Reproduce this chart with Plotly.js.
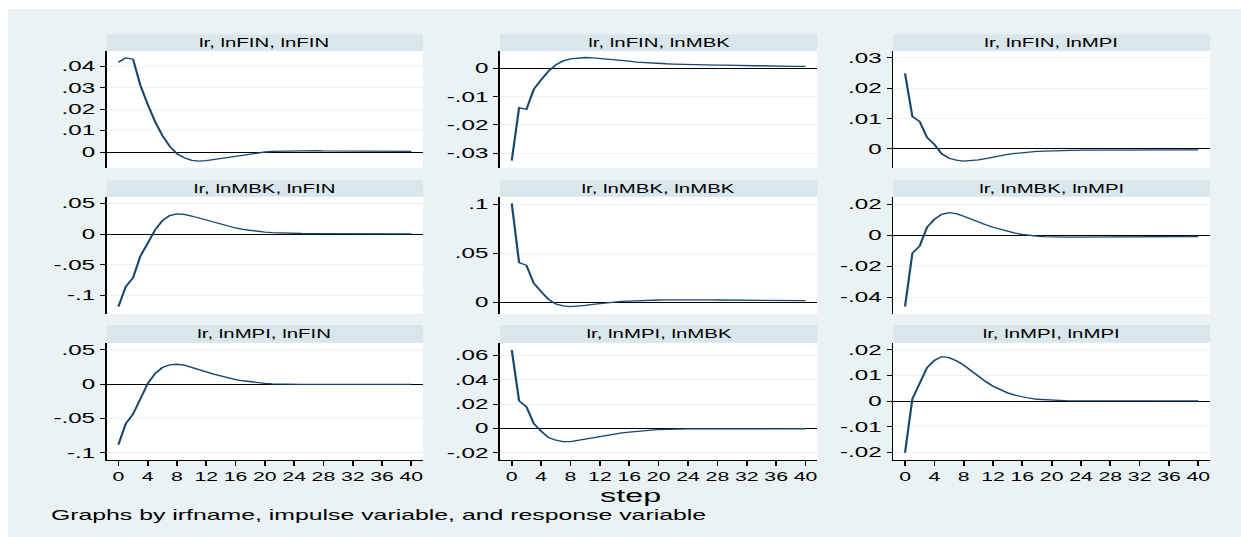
<!DOCTYPE html>
<html>
<head>
<meta charset="utf-8">
<script src="https://cdn.plot.ly/plotly-3.0.1.min.js"></script>
<style>
html, body { margin: 0; padding: 0; overflow: hidden; background: #ffffff; }
#chart { transform-origin: 0 0; }
</style>
</head>
<body>
<div id="chart"></div>
<script>
// ---------------- data ----------------
const steps = [0,1,2,3,4,5,6,7,8,9,10,11,12,13,14,15,16,17,18,19,20,21,22,23,24,25,26,27,28,29,30,31,32,33,34,35,36,37,38,39,40];
const xTickVals = [0,4,8,12,16,20,24,28,32,36,40];
const xTickText = ["0","4","8","12","16","20","24","28","32","36","40"];

const panelTitles = [
  "lr, lnFIN, lnFIN", "lr, lnFIN, lnMBK", "lr, lnFIN, lnMPI",
  "lr, lnMBK, lnFIN", "lr, lnMBK, lnMBK", "lr, lnMBK, lnMPI",
  "lr, lnMPI, lnFIN", "lr, lnMPI, lnMBK", "lr, lnMPI, lnMPI"
];

const irf_FIN_FIN = [0.0418,0.0438,0.0432,0.0310,0.0222,0.0142,0.0077,0.0027,-0.0008,-0.0027,-0.0039,-0.0042,-0.0040,-0.0035,-0.0030,-0.0024,-0.0018,-0.0012,-0.0007,-0.0003,0.0000,0.0003,0.0004,0.0005,0.0006,0.0006,0.0006,0.0006,0.0005,0.0005,0.0005,0.0005,0.0004,0.0004,0.0004,0.0004,0.0003,0.0003,0.0003,0.0003,0.0003];
const irf_FIN_MBK = [-0.0326,-0.0139,-0.0145,-0.0074,-0.0041,-0.0010,0.0012,0.0026,0.0033,0.0036,0.0038,0.0037,0.0035,0.0032,0.0030,0.0027,0.0025,0.0022,0.0020,0.0018,0.0017,0.0016,0.0015,0.0014,0.0013,0.0013,0.0012,0.0012,0.0011,0.0011,0.0010,0.0010,0.0009,0.0009,0.0009,0.0008,0.0008,0.0008,0.0007,0.0007,0.0007];
const irf_FIN_MPI = [0.0249,0.0107,0.0090,0.0038,0.0015,-0.0016,-0.0031,-0.0037,-0.0040,-0.0039,-0.0036,-0.0032,-0.0027,-0.0022,-0.0018,-0.0015,-0.0012,-0.0010,-0.0008,-0.0007,-0.0006,-0.0005,-0.0004,-0.0004,-0.0004,-0.0004,-0.0004,-0.0004,-0.0004,-0.0004,-0.0003,-0.0003,-0.0003,-0.0003,-0.0003,-0.0003,-0.0003,-0.0003,-0.0003,-0.0003,-0.0003];
const irf_MBK_FIN = [-0.1185,-0.0859,-0.0712,-0.0360,-0.0150,0.0065,0.0217,0.0299,0.0326,0.0320,0.0293,0.0260,0.0225,0.0190,0.0155,0.0125,0.0098,0.0075,0.0057,0.0043,0.0032,0.0024,0.0018,0.0013,0.0010,0.0008,0.0007,0.0006,0.0005,0.0005,0.0004,0.0004,0.0004,0.0003,0.0003,0.0003,0.0003,0.0003,0.0002,0.0002,0.0002];
const irf_MBK_MBK = [0.1010,0.0405,0.0378,0.0194,0.0109,0.0030,-0.0017,-0.0037,-0.0044,-0.0040,-0.0031,-0.0021,-0.0012,-0.0004,0.0003,0.0009,0.0013,0.0017,0.0020,0.0022,0.0024,0.0025,0.0026,0.0026,0.0026,0.0026,0.0025,0.0025,0.0024,0.0024,0.0023,0.0022,0.0021,0.0021,0.0020,0.0020,0.0019,0.0019,0.0018,0.0018,0.0017];
const irf_MBK_MPI = [-0.0460,-0.0116,-0.0069,0.0052,0.0103,0.0135,0.0146,0.0140,0.0123,0.0103,0.0085,0.0068,0.0052,0.0038,0.0025,0.0014,0.0005,-0.0002,-0.0006,-0.0009,-0.0011,-0.0012,-0.0012,-0.0012,-0.0012,-0.0012,-0.0012,-0.0011,-0.0011,-0.0011,-0.0011,-0.0010,-0.0010,-0.0010,-0.0009,-0.0009,-0.0009,-0.0009,-0.0008,-0.0008,-0.0008];
const irf_MPI_FIN = [-0.0883,-0.0578,-0.0437,-0.0210,0.0008,0.0155,0.0243,0.0282,0.0291,0.0277,0.0248,0.0215,0.0180,0.0148,0.0118,0.0090,0.0068,0.0050,0.0035,0.0023,0.0013,0.0006,0.0001,-0.0002,-0.0004,-0.0004,-0.0004,-0.0004,-0.0004,-0.0004,-0.0004,-0.0003,-0.0003,-0.0003,-0.0003,-0.0003,-0.0003,-0.0002,-0.0002,-0.0002,-0.0002];
const irf_MPI_MBK = [0.0644,0.0227,0.0178,0.0041,-0.0022,-0.0074,-0.0096,-0.0107,-0.0107,-0.0099,-0.0088,-0.0077,-0.0066,-0.0055,-0.0045,-0.0036,-0.0029,-0.0022,-0.0017,-0.0013,-0.0010,-0.0007,-0.0005,-0.0004,-0.0003,-0.0003,-0.0003,-0.0003,-0.0003,-0.0002,-0.0002,-0.0002,-0.0002,-0.0002,-0.0002,-0.0002,-0.0002,-0.0002,-0.0002,-0.0002,-0.0002];
const irf_MPI_MPI = [-0.0201,0.0009,0.0069,0.0130,0.0158,0.0173,0.0169,0.0157,0.0140,0.0118,0.0097,0.0076,0.0058,0.0044,0.0032,0.0023,0.0016,0.0011,0.0007,0.0005,0.0004,0.0003,0.0002,0.0002,0.0001,0.0001,0.0001,0.0001,0.0001,0.0001,0.0001,0.0001,0.0001,0.0001,0.0001,0.0001,0.0001,0.0001,0.0001,0.0001,0.0001];

const yTickVals = [
  [0,0.01,0.02,0.03,0.04], [-0.03,-0.02,-0.01,0], [0,0.01,0.02,0.03],
  [-0.1,-0.05,0,0.05], [0,0.05,0.1], [-0.04,-0.02,0,0.02],
  [-0.1,-0.05,0,0.05], [-0.02,0,0.02,0.04,0.06], [-0.02,-0.01,0,0.01,0.02]
];
const yTickText = [
  ["0",".01",".02",".03",".04"], ["-.03","-.02","-.01","0"], ["0",".01",".02",".03"],
  ["-.1","-.05","0",".05"], ["0",".05",".1"], ["-.04","-.02","0",".02"],
  ["-.1","-.05","0",".05"], ["-.02","0",".02",".04",".06"], ["-.02","-.01","0",".01",".02"]
];
const series = [irf_FIN_FIN, irf_FIN_MBK, irf_FIN_MPI, irf_MBK_FIN, irf_MBK_MBK, irf_MBK_MPI, irf_MPI_FIN, irf_MPI_MBK, irf_MPI_MPI];

// ---------------- layout geometry (reference pixels) ----------------
const W = 1241, H = 537;
const S = 1.7;                 // horizontal stretch of the reference image
const Wp = W / S;
const yRanges = [
  [-0.0073, 0.047], [-0.0351, 0.0061], [-0.0062, 0.0323],
  [-0.1304, 0.0608], [-0.0119, 0.1078], [-0.0508, 0.0249],
  [-0.1103, 0.0606], [-0.0256, 0.0704], [-0.0228, 0.0227]
];
const xRange = [-1.6, 41.6];
const colPx = [[106.7, 423], [500, 817.3], [893.3, 1210]];
const rowPx = [[51, 167.7], [196.7, 314], [342.7, 459.7]];
const stripPx = [[34.3, 51], [180.5, 196.7], [325, 342.7]];

const FONT = "Liberation Sans, Arial, Helvetica, sans-serif";
const fx = px => px / W;
const fy = px => 1 - px / H;

const data = [];
const layout = {
  width: Wp, height: H,
  margin: {l: 0, r: 0, t: 0, b: 0},
  paper_bgcolor: "#EAF2F3",
  plot_bgcolor: "#FFFFFF",
  showlegend: false,
  font: {family: FONT, color: "#000000"},
  shapes: [
    {type: "rect", xref: "paper", yref: "paper", x0: 0, x1: 1, y0: fy(9), y1: 1, fillcolor: "#FFFFFF", line: {width: 0}, layer: "below"},
    {type: "rect", xref: "paper", yref: "paper", x0: 0, x1: fx(8), y0: 0, y1: 1, fillcolor: "#FFFFFF", line: {width: 0}, layer: "below"}
  ],
  annotations: []
};

for (let i = 0; i < 9; i++) {
  const r = Math.floor(i / 3), c = i % 3;
  const n = i + 1;
  const xk = n === 1 ? "xaxis" : "xaxis" + n;
  const yk = n === 1 ? "yaxis" : "yaxis" + n;
  const bottom = r === 2;
  layout[xk] = {
    domain: [fx(colPx[c][0]), fx(colPx[c][1])],
    anchor: "y" + (n === 1 ? "" : n),
    range: xRange, fixedrange: true,
    showgrid: false, zeroline: false,
    showline: bottom, linecolor: "#000000", linewidth: 1,
    ticks: bottom ? "outside" : "", ticklen: 5, tickwidth: 1, tickcolor: "#000000",
    tickvals: xTickVals, ticktext: xTickText,
    showticklabels: bottom,
    tickfont: {family: FONT, size: 12.5, color: "#000000"}
  };
  layout[yk] = {
    domain: [fy(rowPx[r][1]), fy(rowPx[r][0])],
    anchor: "x" + (n === 1 ? "" : n),
    range: yRanges[i], fixedrange: true,
    showgrid: true, gridcolor: "#EAF2F3", gridwidth: 1,
    zeroline: true, zerolinecolor: "#000000", zerolinewidth: 1,
    showline: true, linecolor: "#000000", linewidth: 1,
    ticks: "outside", ticklen: 3, tickwidth: 1, tickcolor: "#000000",
    tickvals: yTickVals[i], ticktext: yTickText[i],
    tickfont: {family: FONT, size: 14.2, color: "#000000"}
  };
  data.push({
    type: "scatter", mode: "lines",
    x: steps, y: series[i],
    xaxis: "x" + (n === 1 ? "" : n), yaxis: "y" + (n === 1 ? "" : n),
    line: {color: "#1A476F", width: 1.3},
    hoverinfo: "skip"
  });
  layout.shapes.push({
    type: "rect", xref: "paper", yref: "paper",
    x0: fx(colPx[c][0]), x1: fx(colPx[c][1]),
    y0: fy(stripPx[r][1]), y1: fy(stripPx[r][0]),
    fillcolor: "#D9E6EB", line: {width: 0}
  });
  layout.annotations.push({
    xref: "paper", yref: "paper",
    x: fx((colPx[c][0] + colPx[c][1]) / 2), y: fy((stripPx[r][0] + stripPx[r][1]) / 2),
    xanchor: "center", yanchor: "middle", showarrow: false,
    text: panelTitles[i], font: {family: FONT, size: 12, color: "#000000"}
  });
}

layout.annotations.push({
  xref: "paper", yref: "paper", x: fx(631), y: fy(495.5),
  xanchor: "center", yanchor: "middle", showarrow: false,
  text: "step", font: {family: FONT, size: 19, color: "#000000"}
});
layout.annotations.push({
  xref: "paper", yref: "paper", x: fx(47), y: fy(515),
  xanchor: "left", yanchor: "middle", showarrow: false,
  text: "Graphs by irfname, impulse variable, and response variable",
  font: {family: FONT, size: 14.6, color: "#000000"}
});

const el = document.getElementById("chart");
el.style.width = Wp + "px";
el.style.height = H + "px";
el.style.transform = "scaleX(" + S + ")";
Plotly.newPlot(el, data, layout, {staticPlot: true, displayModeBar: false});
</script>
</body>
</html>
